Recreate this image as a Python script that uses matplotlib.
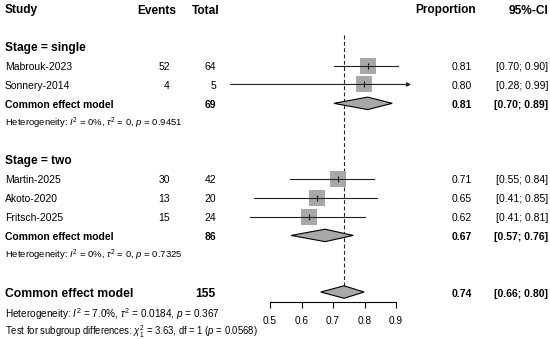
import matplotlib
matplotlib.use("Agg")
import matplotlib.pyplot as plt
from matplotlib.transforms import blended_transform_factory

plt.rcParams['font.family'] = ['Liberation Sans', 'DejaVu Sans']
plt.rcParams['mathtext.fontset'] = 'custom'
plt.rcParams['mathtext.rm'] = 'Liberation Sans'
plt.rcParams['mathtext.it'] = 'Liberation Sans:italic'
plt.rcParams['mathtext.bf'] = 'Liberation Sans:bold'

# ---------------- data ----------------
studies = ["Mabrouk-2023", "Sonnery-2014", "Martin-2025", "Akoto-2020", "Fritsch-2025"]
study_rows = [3, 4, 9, 10, 11]
events = [52, 4, 30, 13, 15]
totals = [64, 5, 42, 20, 24]
prop_text = ["0.81", "0.80", "0.71", "0.65", "0.62"]
ci_text = ["[0.70; 0.90]", "[0.28; 0.99]", "[0.55; 0.84]", "[0.41; 0.85]", "[0.41; 0.81]"]
est = [0.812, 0.799, 0.715, 0.649, 0.625]
lo = [0.704, 0.375, 0.563, 0.449, 0.437]
hi = [0.906, 0.948, 0.829, 0.839, 0.800]
arrow_right = [False, True, False, False, False]

group_labels = ["Stage = single", "Stage = two"]
group_rows = [2, 8]
pooled_rows = [5, 12]
pooled_totals = [69, 86]
pooled_est = [0.81, 0.675]
pooled_lo = [0.703, 0.567]
pooled_hi = [0.888, 0.764]
pooled_prop_text = ["0.81", "0.67"]
pooled_ci_text = ["[0.70; 0.89]", "[0.57; 0.76]"]
het_rows = [6, 13]
het_text = [r"Heterogeneity: $I^2$ = 0%, $\tau^2$ = 0, $p$ = 0.9451",
            r"Heterogeneity: $I^2$ = 0%, $\tau^2$ = 0, $p$ = 0.7325"]

overall_row = 15
overall_total = 155
overall_est = 0.735
overall_lo = 0.661
overall_hi = 0.799
overall_prop_text = "0.74"
overall_ci_text = "[0.66; 0.80]"
overall_het = r"Heterogeneity: $I^2$ = 7.0%, $\tau^2$ = 0.0184, $p$ = 0.367"
subgroup_test = r"Test for subgroup differences: $\chi^2_1$ = 3.63, df = 1 ($p$ = 0.0568)"

xticks = [0.5, 0.6, 0.7, 0.8, 0.9]
xtick_labels = ["0.5", "0.6", "0.7", "0.8", "0.9"]

# ---------------- layout ----------------
W, H = 550, 339
fig = plt.figure(figsize=(W / 100, H / 100), dpi=100)
ax = fig.add_axes([0, 0, 1, 1])
ax.set_xlim(0.5 - 270 / 315, 0.5 + (W - 270) / 315)
row_h = 18.87
top = 10.5
ax.set_ylim((H - top) / row_h, -top / row_h)
for s in ['top', 'left', 'right']:
    ax.spines[s].set_visible(False)
ax.set_yticks([])
ax.patch.set_visible(False)

tr = blended_transform_factory(ax.transAxes, ax.transData)
def px(x):
    return x / W

FS = 7.5
FSH = 8.6
FSO = 8.7
FSHET = 6.8
FSHET2 = 7.2
FSTEST = 6.85
dy = -0.08
grey = '#a8a8a8'

# headers
ax.text(px(5), 0, "Study", transform=tr, ha='left', va='center', fontsize=FSH, fontweight='bold')
ax.text(px(176), 0, "Events", transform=tr, ha='right', va='center', fontsize=FSH, fontweight='bold')
ax.text(px(220), 0, "Total", transform=tr, ha='right', va='center', fontsize=FSH, fontweight='bold')
ax.text(px(476), 0, "Proportion", transform=tr, ha='right', va='center', fontsize=FSH, fontweight='bold')
ax.text(px(548), 0, "95%-CI", transform=tr, ha='right', va='center', fontsize=FSH, fontweight='bold')

for lab, r in zip(group_labels, group_rows):
    ax.text(px(5), r, lab, transform=tr, ha='left', va='center', fontsize=FSH, fontweight='bold')

# studies
for i, name in enumerate(studies):
    r = study_rows[i]
    ax.text(px(5), r, name, transform=tr, ha='left', va='center', fontsize=FS)
    ax.text(px(170), r, str(events[i]), transform=tr, ha='right', va='center', fontsize=FS)
    ax.text(px(216), r, str(totals[i]), transform=tr, ha='right', va='center', fontsize=FS)
    ax.text(px(472), r, prop_text[i], transform=tr, ha='right', va='center', fontsize=FS)
    ax.text(px(548), r, ci_text[i], transform=tr, ha='right', va='center', fontsize=FS)
    ax.plot([est[i]], [r + dy], marker='s', markersize=11.5, color=grey, markeredgewidth=0, zorder=2)
    if arrow_right[i]:
        ax.annotate('', xy=(hi[i], r + dy), xytext=(lo[i], r + dy),
                    arrowprops=dict(arrowstyle='-|>', lw=0.8, color='#222222',
                                    mutation_scale=6, shrinkA=0, shrinkB=0), zorder=3)
    else:
        ax.plot([lo[i], hi[i]], [r + dy, r + dy], color='#222222', lw=0.8, zorder=3)
    ax.plot([est[i]], [r + dy], marker='|', markersize=4.5, color='#111111', markeredgewidth=0.8, zorder=4)

def diamond(x, l, h, r, half=0.33):
    ax.fill([l, x, h, x, l], [r + dy, r + dy - half, r + dy, r + dy + half, r + dy],
            facecolor=grey, edgecolor='black', lw=0.8, zorder=3)

# pooled subgroups
for j in range(2):
    r = pooled_rows[j]
    ax.text(px(5), r, "Common effect model", transform=tr, ha='left', va='center', fontsize=FS, fontweight='bold')
    ax.text(px(216), r, str(pooled_totals[j]), transform=tr, ha='right', va='center', fontsize=FS, fontweight='bold')
    ax.text(px(472), r, pooled_prop_text[j], transform=tr, ha='right', va='center', fontsize=FS, fontweight='bold')
    ax.text(px(548), r, pooled_ci_text[j], transform=tr, ha='right', va='center', fontsize=FS, fontweight='bold')
    diamond(pooled_est[j], pooled_lo[j], pooled_hi[j], r)
    ax.text(px(5), het_rows[j], het_text[j], transform=tr, ha='left', va='center', fontsize=FSHET)

# overall
r = overall_row
ax.text(px(5), r, "Common effect model", transform=tr, ha='left', va='center', fontsize=FSO, fontweight='bold')
ax.text(px(216), r, str(overall_total), transform=tr, ha='right', va='center', fontsize=FSO, fontweight='bold')
ax.text(px(472), r, overall_prop_text, transform=tr, ha='right', va='center', fontsize=FS, fontweight='bold')
ax.text(px(548), r, overall_ci_text, transform=tr, ha='right', va='center', fontsize=FS, fontweight='bold')
diamond(overall_est, overall_lo, overall_hi, r)
ax.text(px(5), 16.1, overall_het, transform=tr, ha='left', va='center', fontsize=FSHET2)
ax.text(px(5), 17.0, subgroup_test, transform=tr, ha='left', va='center', fontsize=FSTEST)

# reference line
ax.vlines(overall_est, 1.3, r + dy - 0.33, colors='#222222', linestyles=(0, (3.5, 2.2)), lw=0.8, zorder=1)

# x axis
ax.spines['bottom'].set_position(('data', (302 - top) / row_h))
ax.spines['bottom'].set_bounds(xticks[0], xticks[-1])
ax.spines['bottom'].set_linewidth(0.8)
ax.set_xticks(xticks)
ax.set_xticklabels(xtick_labels)
ax.tick_params(axis='x', direction='out', length=4.3, width=0.8, labelsize=7.3, pad=6)

fig.savefig("out.png", dpi=100)
